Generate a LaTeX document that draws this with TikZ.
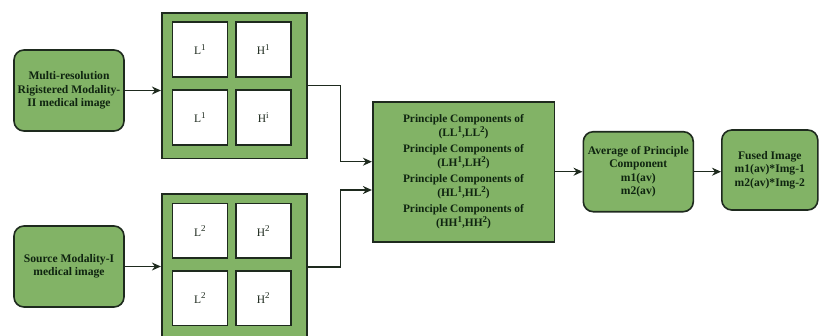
\documentclass[tikz,border=0pt]{standalone}
\usepackage{fontspec}
\setmainfont{Liberation Serif}
\usetikzlibrary{arrows.meta,positioning,calc}
\definecolor{boxgreen}{HTML}{82B366}
\definecolor{boxline}{HTML}{1E2A1E}
\definecolor{txtdark}{HTML}{0F2410}
\newcommand{\supx}[1]{\raisebox{4.5pt}{\fontsize{9}{9}\selectfont #1}}
\tikzset{
  rbox/.style={draw=boxline,line width=1.6pt,fill=boxgreen,rounded corners=10pt,
    align=center,font=\fontsize{11.6}{13.4}\selectfont\bfseries,text=txtdark,inner sep=0pt},
  sbox/.style={draw=boxline,line width=1.6pt,fill=boxgreen,align=center,inner sep=0pt},
  cellbox/.style={draw=boxline,line width=1.6pt,fill=white,minimum width=55pt,minimum height=54.5pt,
    inner sep=0pt,font=\fontsize{11.5}{13}\selectfont,text=boxline},
  arr/.style={draw=boxline,line width=1.2pt,-{Stealth[length=9pt,width=8pt]}},
  ln/.style={draw=boxline,line width=1.2pt}
}
\begin{document}
\begin{tikzpicture}[x=1pt,y=-1pt]
\useasboundingbox (0,0) rectangle (820,335);
\begin{scope}
\clip (0,0) rectangle (820,335);
% left inputs
\node[rbox,minimum width=110pt,minimum height=81pt] (src2) at (69,90.5)
  {Multi-resolution\\Rigistered Modality-\\II medical image};
\node[rbox,minimum width=110pt,minimum height=81pt] (src1) at (69,266.5)
  {Source Modality-I\\medical image};
% grid 1
\node[sbox,minimum width=145pt,minimum height=145.6pt] (g1) at (234.2,85.5) {};
\node[cellbox] (c11) at (199.8,49.5) {L\supx{1}};
\node[cellbox] (c12) at (263.2,49.5) {H\supx{1}};
\node[cellbox] (c13) at (199.8,117.5) {L\supx{1}};
\node[cellbox] (c14) at (263.2,117.5) {H\supx{i}};
% grid 2
\node[sbox,minimum width=145pt,minimum height=146pt] (g2) at (234.2,267) {};
\node[cellbox] (c21) at (199.8,230.8) {L\supx{2}};
\node[cellbox] (c22) at (263.2,230.8) {H\supx{2}};
\node[cellbox] (c23) at (199.8,298.2) {L\supx{2}};
\node[cellbox] (c24) at (263.2,298.2) {H\supx{2}};
\end{scope}
% principal components
\node[sbox,minimum width=181.6pt,minimum height=140pt,
  font=\fontsize{11.4}{13}\selectfont\bfseries,text=txtdark] (pc) at (463.5,171.7)
  {Principle Components of\\[1.5pt](LL\supx{1},LL\supx{2})\\[2.5pt]
   Principle Components of\\[1.5pt](LH\supx{1},LH\supx{2})\\[2.5pt]
   Principle Components of\\[1.5pt](HL\supx{1},HL\supx{2})\\[2.5pt]
   Principle Components of\\[1.5pt](HH\supx{1},HH\supx{2})};
% average
\node[rbox,minimum width=110pt,minimum height=80pt] (avg) at (638.3,171.7)
  {Average of Principle\\Component\\m1(av)\\m2(av)};
% fused
\node[rbox,minimum width=96pt,minimum height=80pt] (fus) at (769.8,170)
  {Fused Image\\m1(av)*Img-1\\m2(av)*Img-2};
% connectors
\draw[arr] (src2.east) -- (src2.east -| g1.west);
\draw[arr] (src1.east) -- (src1.east -| g2.west);
\coordinate (pin1) at ([yshift=10pt]pc.west);
\coordinate (pin2) at ([yshift=-18.3pt]pc.west);
\draw[arr] (g1.east) -- ++(33.3,0) |- (pin1);
\draw[arr] (g2.east) -- ++(33.3,0) |- (pin2);
\draw[arr] (pc.east) -- (pc.east -| avg.west);
\draw[arr] (avg.east) -- (avg.east -| fus.west);
\end{tikzpicture}
\end{document}
